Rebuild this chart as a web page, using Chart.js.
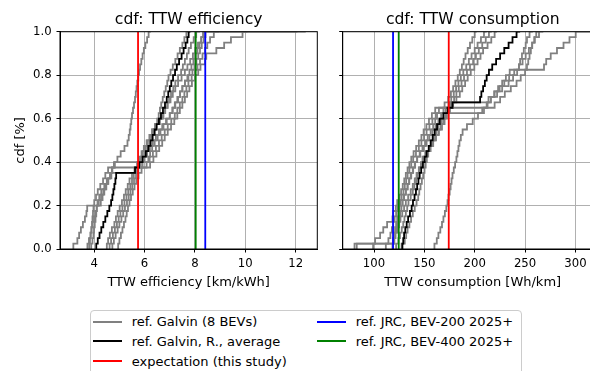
<!DOCTYPE html>
<html>
<head>
<meta charset="utf-8">
<script src="https://cdn.jsdelivr.net/npm/chart.js@4.4.0/dist/chart.umd.min.js"></script>
<style>
  html, body { margin: 0; padding: 0; background: #fff; overflow: hidden; }
  #wrap { position: relative; width: 590px; height: 371px; overflow: hidden; font-family: "DejaVu Sans", sans-serif; }
  #effBox { position: absolute; left: 0; top: 0; }
  #consBox { position: absolute; left: 320px; top: 0; }
  #legend { position: absolute; left: 90px; top: 310px; width: 430px; height: 80px;
            border: 1px solid #cccccc; border-radius: 4px; background: rgba(255,255,255,0.8); }
  #legend .item { position: absolute; display: flex; align-items: center; height: 19px;
                  font-size: 13px; color: #000; white-space: nowrap; }
  #legend .handle { display: inline-block; width: 28.4px; height: 1.8px; margin-right: 10px; }
</style>
</head>
<body>
<div id="wrap">
  <canvas id="effBox" width="330" height="300"></canvas>
  <canvas id="consBox" width="300" height="300"></canvas>
  <div id="legend"></div>
</div>
<script>
// TTW efficiency per month (km/kWh), sorted, one array per vehicle
const galvinBev1 = [3.17, 3.33, 3.40, 3.47, 3.55, 3.63, 3.69, 3.72, 4.26, 4.33, 4.40, 4.48, 4.55, 4.63, 4.72, 4.82, 4.92, 5.05, 5.20, 5.32, 5.37,
  5.41, 5.44, 5.47, 5.50, 5.54, 5.58, 5.62, 5.65, 5.68, 5.71, 5.75, 5.78, 5.82, 5.87, 5.92, 5.97, 6.03, 6.10, 6.16, 6.25];
const galvinBev2 = [3.73, 3.79, 3.85, 3.89, 3.94, 3.99, 4.04, 4.10, 4.18, 4.27, 4.36, 4.45, 4.56, 4.68, 5.70, 5.76, 5.85, 5.93, 6.02, 6.10, 6.21,
  6.30, 6.41, 6.50, 6.56, 6.61, 6.66, 6.72, 6.78, 6.84, 6.90, 6.95, 7.03, 7.12, 7.22, 7.31, 7.40, 7.50, 7.58, 7.66, 7.85];
const galvinBev3 = [3.80, 3.83, 3.86, 3.89, 3.91, 3.93, 3.95, 3.97, 4.00, 4.07, 4.14, 4.24, 4.35, 4.44, 4.55, 5.85, 5.92, 6.00, 6.10, 6.18, 6.27,
  6.36, 6.46, 6.61, 6.75, 6.82, 6.90, 6.97, 7.05, 7.14, 7.22, 7.33, 7.45, 7.52, 7.60, 7.68, 7.75, 7.84, 7.95, 8.05, 8.20];
const galvinBev4 = [3.88, 3.93, 3.97, 3.99, 4.02, 4.05, 4.08, 4.10, 4.13, 4.20, 4.28, 4.40, 4.50, 4.63, 4.70, 4.78, 6.15, 6.22, 6.30, 6.40, 6.52,
  6.63, 6.75, 6.88, 7.00, 7.10, 7.20, 7.30, 7.41, 7.50, 7.60, 7.70, 7.78, 7.86, 7.94, 8.02, 8.10, 8.18, 8.25, 8.32, 8.45];
const galvinBev5 = [4.50, 4.55, 4.62, 4.70, 4.80, 4.86, 4.93, 5.01, 5.10, 5.18, 5.25, 5.33, 5.40, 5.50, 5.60, 5.70, 5.80, 5.88, 5.97, 6.08, 6.19,
  6.30, 6.41, 6.55, 6.70, 6.80, 6.92, 7.03, 7.12, 7.22, 7.33, 7.47, 7.60, 7.70, 7.81, 7.92, 8.01, 8.12, 8.25, 8.35, 8.95];
const galvinBev6 = [4.61, 4.67, 4.74, 4.82, 4.90, 4.97, 5.04, 5.12, 5.20, 5.28, 5.35, 5.43, 5.50, 5.57, 5.65, 5.92, 6.00, 6.10, 6.21, 6.33, 6.45,
  6.57, 6.70, 6.85, 7.00, 7.12, 7.22, 7.33, 7.41, 7.50, 7.60, 7.74, 7.90, 7.98, 8.06, 8.13, 8.20, 8.27, 8.35, 8.42, 10.09];
const galvinBev7 = [4.72, 4.78, 4.85, 4.93, 5.00, 5.08, 5.15, 5.22, 5.30, 5.37, 5.44, 5.51, 5.58, 5.66, 5.75, 6.08, 6.20, 6.33, 6.45, 6.57, 6.68,
  6.80, 6.92, 7.06, 7.20, 7.30, 7.40, 7.50, 7.58, 7.66, 7.74, 7.87, 8.00, 8.10, 8.20, 8.30, 8.40, 8.49, 8.60, 8.75, 12.07];
const galvinBev8 = [4.95, 5.00, 5.06, 5.12, 5.18, 5.24, 5.29, 5.34, 5.40, 5.46, 5.53, 5.60, 5.67, 5.76, 5.88, 6.22, 6.35, 6.47, 6.58, 6.70, 6.80,
  6.92, 7.05, 7.18, 7.30, 7.40, 7.50, 7.60, 7.69, 7.78, 7.88, 8.00, 8.13, 8.22, 8.40, 8.45, 8.85, 9.16, 9.43, 9.89, 12.40];
const galvinAverage = [4.08, 4.14, 4.21, 4.28, 4.36, 4.44, 4.52, 4.60, 4.67, 4.72, 4.76, 4.80, 4.84, 4.87, 5.62, 5.78, 5.92, 6.05, 6.15, 6.24, 6.32,
  6.40, 6.48, 6.57, 6.65, 6.73, 6.81, 6.88, 6.94, 7.00, 7.06, 7.13, 7.21, 7.28, 7.37, 7.47, 7.55, 7.63, 7.70, 7.75, 7.80];
const galvinVehicles = [galvinBev1, galvinBev2, galvinBev3, galvinBev4, galvinBev5, galvinBev6, galvinBev7, galvinBev8];

// reference efficiencies (km/kWh)
const refExpectation = 5.74;
const refJrc200 = 8.41;
const refJrc400 = 8.03;

const effTicks = [4, 6, 8, 10, 12];
const consTicks = [100, 150, 200, 250, 300];
const cdfTicks = [0, 0.2, 0.4, 0.6, 0.8, 1.0];

const legendItems = [
  { label: 'ref. Galvin (8 BEVs)', color: '#808080' },
  { label: 'ref. Galvin, R., average', color: '#000000' },
  { label: 'expectation (this study)', color: '#ff0000' },
  { label: 'ref. JRC, BEV-200 2025+', color: '#0000ff' },
  { label: 'ref. JRC, BEV-400 2025+', color: '#008000' }
];

const FONT = '"DejaVu Sans", sans-serif';

// empirical cdf points: value k of n sits at k/(n-1)
function cdfPoints(values) {
  return values.map((v, k) => ({ x: v, y: k / (values.length - 1) }));
}
// consumption (Wh/km) is the reciprocal of efficiency
function toConsumption(values) {
  return values.slice().reverse().map(v => 1000 / v);
}

function stepSet(points, color, width) {
  return { data: points, borderColor: color, borderWidth: width, pointRadius: 0,
           stepped: 'after', fill: false, tension: 0 };
}
function vline(x, color) {
  return { data: [{ x: x, y: 0 }, { x: x, y: 1 }], borderColor: color, borderWidth: 1.8,
           pointRadius: 0, fill: false };
}

function buildSets(convert) {
  const f = convert || (v => v);
  const single = v => (convert ? 1000 / v : v);
  const sets = [
    vline(single(refExpectation), '#ff0000'),
    vline(single(refJrc400), '#008000'),
    vline(single(refJrc200), '#0000ff'),
    stepSet(cdfPoints(f(galvinAverage)), '#000000', 1.8)
  ];
  galvinVehicles.forEach(v => sets.push(stepSet(cdfPoints(f(v)), '#808080', 1.8)));
  return sets;
}

// axes frame on all four sides
const frame = {
  id: 'frame',
  afterDraw(chart) {
    const { ctx, chartArea: a } = chart;
    ctx.save();
    ctx.strokeStyle = '#000';
    ctx.lineWidth = 1;
    ctx.strokeRect(a.left, a.top, a.right - a.left, a.bottom - a.top);
    ctx.restore();
  }
};

function makeOptions(cfg) {
  return {
    responsive: false,
    animation: false,
    layout: { padding: { left: 0, right: cfg.padRight, top: 0, bottom: 0 } },
    plugins: {
      legend: { display: false },
      tooltip: { enabled: false },
      title: {
        display: true, text: cfg.title, color: '#000', fullSize: false,
        font: { family: FONT, size: 15.6, weight: 'normal' },
        padding: { top: 10.6, bottom: 2.4 }
      }
    },
    scales: {
      x: {
        type: 'linear', min: cfg.xMin, max: cfg.xMax,
        afterBuildTicks: s => { s.ticks = cfg.xTicks.map(v => ({ value: v })); },
        afterFit: s => { s.height = 51; },
        ticks: { color: '#000', font: { family: FONT, size: 11.7 }, padding: 4.8, maxRotation: 0,
                 callback: v => String(v) },
        grid: { color: '#b0b0b0', lineWidth: 1, tickLength: 3.5, tickColor: '#000' },
        border: { color: '#000', width: 1 },
        title: { display: true, text: cfg.xLabel, color: '#000',
                 font: { family: FONT, size: 13 }, padding: { top: 0, bottom: 10 } }
      },
      y: {
        min: 0, max: 1,
        afterBuildTicks: s => { s.ticks = cdfTicks.map(v => ({ value: v })); },
        afterFit: s => { s.width = cfg.yWidth; },
        ticks: { color: '#000', font: { family: FONT, size: 11.7 }, padding: 4.8,
                 callback: v => (cfg.yLabels ? v.toFixed(1) : '') },
        grid: { color: '#b0b0b0', lineWidth: 1, tickLength: 3.5, tickColor: '#000' },
        border: { color: '#000', width: 1 },
        title: { display: cfg.yLabels, text: 'cdf [%]', color: '#000',
                 font: { family: FONT, size: 13 }, padding: { top: 13, bottom: 0 } }
      }
    }
  };
}

new Chart(document.getElementById('effBox'), {
  type: 'line',
  data: { datasets: buildSets(null) },
  options: makeOptions({ title: 'cdf: TTW efficiency', xLabel: 'TTW efficiency [km/kWh]',
                         xMin: 2.64, xMax: 12.86, xTicks: effTicks, padRight: 12.7,
                         yWidth: 60, yLabels: true }),
  plugins: [frame]
});

new Chart(document.getElementById('consBox'), {
  type: 'line',
  data: { datasets: buildSets(toConsumption) },
  options: makeOptions({ title: 'cdf: TTW consumption', xLabel: 'TTW consumption [Wh/km]',
                         xMin: 68.9, xMax: 327.2, xTicks: consTicks, padRight: 17.2,
                         yWidth: 22.7, yLabels: false }),
  plugins: [frame]
});

// shared legend below both panels
const legendBox = document.getElementById('legend');
legendItems.forEach((item, i) => {
  const col = i < 3 ? 0 : 1;
  const row = i < 3 ? i : i - 3;
  const el = document.createElement('div');
  el.className = 'item';
  el.style.left = (col ? 226.3 : 2.3) + 'px';
  el.style.top = (1.2 + row * 19.7) + 'px';
  const handle = document.createElement('span');
  handle.className = 'handle';
  handle.style.background = item.color;
  const text = document.createElement('span');
  text.textContent = item.label;
  el.appendChild(handle);
  el.appendChild(text);
  legendBox.appendChild(el);
});
</script>
</body>
</html>
